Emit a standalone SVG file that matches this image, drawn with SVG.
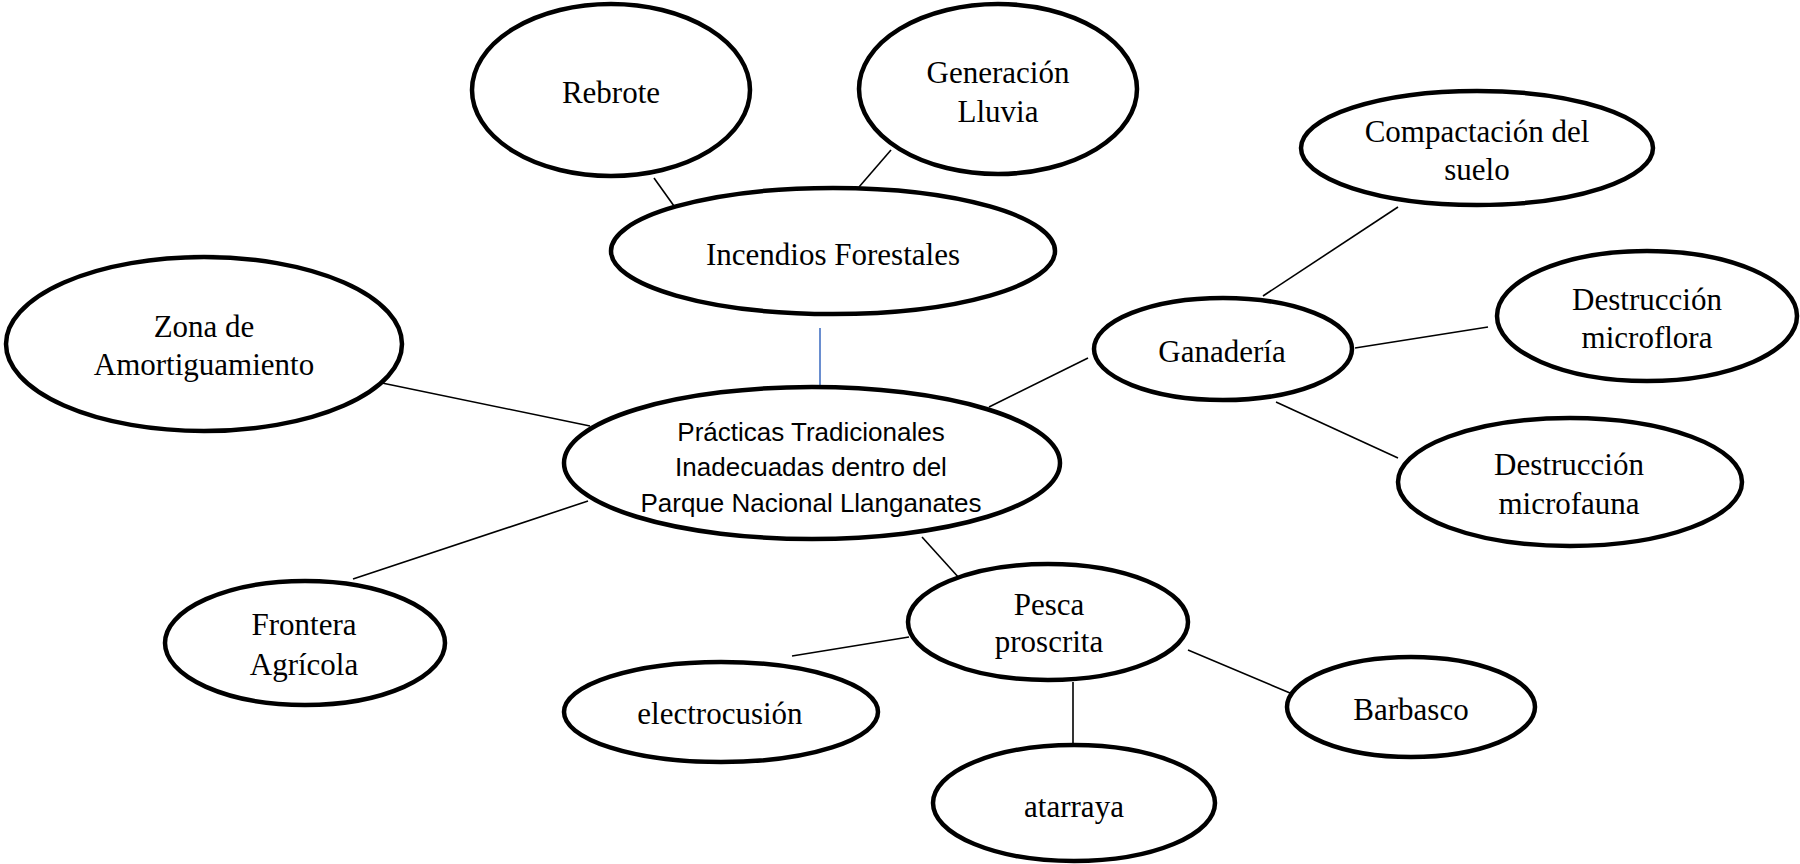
<svg xmlns="http://www.w3.org/2000/svg" width="1800" height="864" viewBox="0 0 1800 864">
<style>
.n{fill:#fff;stroke:#000;stroke-width:4.5}
.t{font-family:"Liberation Serif","Times New Roman",serif;font-size:31px;fill:#000;text-anchor:middle}
.s{font-family:"Liberation Sans",Arial,sans-serif;font-size:26px;fill:#000;text-anchor:middle}
.c{stroke:#000;stroke-width:1.6;fill:none}
.b{stroke:#4472C4;stroke-width:1.6;fill:none}
</style>
<rect width="1800" height="864" fill="#fff"/>
<g id="connectors">
<line class="c" x1="654" y1="178" x2="674" y2="206"/>
<line class="c" x1="891" y1="150" x2="859" y2="187"/>
<line class="b" x1="820" y1="328" x2="820" y2="391"/>
<line class="c" x1="382" y1="383" x2="590" y2="426"/>
<line class="c" x1="353" y1="579" x2="588" y2="501"/>
<line class="c" x1="989" y1="407" x2="1088" y2="358"/>
<line class="c" x1="1263" y1="296" x2="1398" y2="207"/>
<line class="c" x1="1355" y1="348" x2="1488" y2="327"/>
<line class="c" x1="1276" y1="402" x2="1398" y2="458"/>
<line class="c" x1="922" y1="537" x2="960" y2="579"/>
<line class="c" x1="792" y1="656" x2="909" y2="637"/>
<line class="c" x1="1188" y1="650" x2="1290" y2="693"/>
<line class="c" x1="1073" y1="682" x2="1073" y2="744"/>
</g>
<g id="rebrote"><ellipse class="n" cx="611" cy="90" rx="139" ry="86"/><text class="t" x="611" y="103">Rebrote</text></g>
<g id="generacion"><ellipse class="n" cx="998" cy="89" rx="139" ry="85"/><text class="t" x="998" y="83">Generación</text><text class="t" x="998" y="122">Lluvia</text></g>
<g id="incendios"><ellipse class="n" cx="833" cy="251" rx="222" ry="63"/><text class="t" x="833" y="265">Incendios Forestales</text></g>
<g id="zona"><ellipse class="n" cx="204" cy="344" rx="198" ry="87"/><text class="t" x="204" y="337">Zona de</text><text class="t" x="204" y="375">Amortiguamiento</text></g>
<g id="practicas"><ellipse class="n" cx="812" cy="463" rx="248" ry="76"/><text class="s" x="811" y="441">Prácticas Tradicionales</text><text class="s" x="811" y="476">Inadecuadas dentro del</text><text class="s" x="811" y="512">Parque Nacional Llanganates</text></g>
<g id="ganaderia"><ellipse class="n" cx="1223" cy="349" rx="129" ry="51"/><text class="t" x="1222" y="362">Ganadería</text></g>
<g id="compactacion"><ellipse class="n" cx="1477" cy="148" rx="176" ry="57"/><text class="t" x="1477" y="142">Compactación del</text><text class="t" x="1477" y="180">suelo</text></g>
<g id="microflora"><ellipse class="n" cx="1647" cy="316" rx="150" ry="65"/><text class="t" x="1647" y="310">Destrucción</text><text class="t" x="1647" y="348">microflora</text></g>
<g id="microfauna"><ellipse class="n" cx="1570" cy="482" rx="172" ry="64"/><text class="t" x="1569" y="475">Destrucción</text><text class="t" x="1569" y="514">microfauna</text></g>
<g id="frontera"><ellipse class="n" cx="305" cy="643" rx="140" ry="62"/><text class="t" x="304" y="635">Frontera</text><text class="t" x="304" y="675">Agrícola</text></g>
<g id="pesca"><ellipse class="n" cx="1048" cy="622" rx="140" ry="58"/><text class="t" x="1049" y="615">Pesca</text><text class="t" x="1049" y="652">proscrita</text></g>
<g id="electrocusion"><ellipse class="n" cx="721" cy="712" rx="157" ry="50"/><text class="t" x="720" y="724">electrocusión</text></g>
<g id="barbasco"><ellipse class="n" cx="1411" cy="707" rx="124" ry="50"/><text class="t" x="1411" y="720">Barbasco</text></g>
<g id="atarraya"><ellipse class="n" cx="1074" cy="803" rx="141" ry="58"/><text class="t" x="1074" y="817">atarraya</text></g>
</svg>
